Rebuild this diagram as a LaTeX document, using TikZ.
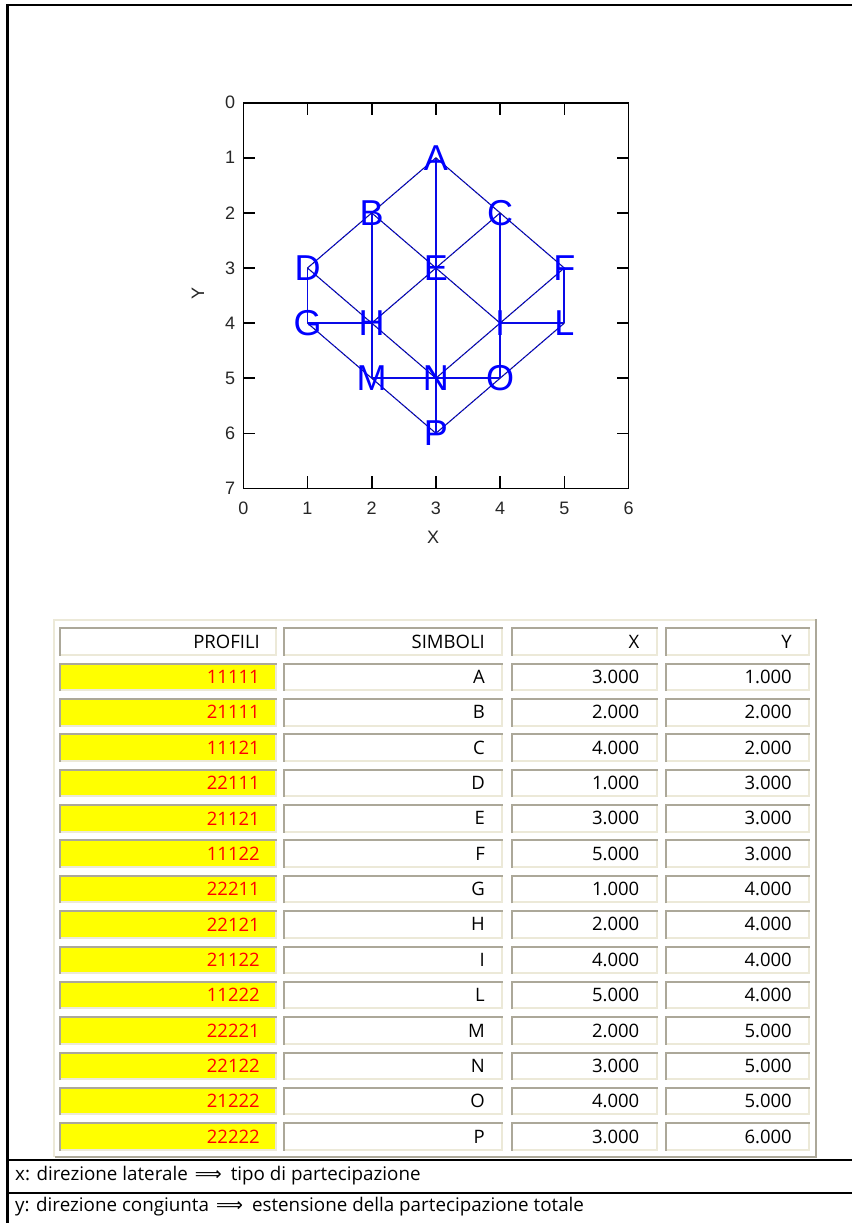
\documentclass[tikz,border=0pt]{standalone}
\usepackage{fontspec}
\setmainfont{Open Sans}
\newfontfamily\arialf{Liberation Sans}
\newfontfamily\symf{DejaVu Sans}
\usetikzlibrary{backgrounds}
\definecolor{cdark}{RGB}{172,168,153}
\definecolor{clight}{RGB}{236,233,216}
\definecolor{plotblue}{RGB}{10,10,230}
\definecolor{cellyellow}{RGB}{255,255,0}
\definecolor{txtred}{RGB}{255,0,0}
\newcommand\tcell[5]{%
  \fill[#5] (#1,#2) rectangle (#3,#4);
  \draw[cdark,line width=2pt] (#1+1,#4) -- (#1+1,#2+1) -- (#3,#2+1);
  \draw[clight,line width=2pt] (#1+2,#4-1) -- (#3-1,#4-1) -- (#3-1,#2+2);
}
\newcommand\darrow{\hspace{7pt}{\symf ⟹}\hspace{9pt}}
\begin{document}
\begin{tikzpicture}[x=1pt,y=-1pt,
  frameline/.style={line width=2.2pt,black},
  tbltext/.style={anchor=east,inner sep=0pt,font=\fontsize{18.5}{21}\selectfont},
  notetext/.style={anchor=base west,inner sep=0pt,font=\fontsize{18.8}{22}\selectfont},
  ptlabel/.style={text=blue,inner sep=0pt,font=\arialf\fontsize{36}{40}\selectfont},
  ticklab/.style={inner sep=0pt,font=\arialf\fontsize{18}{20}\selectfont,text=black!85},
  axisline/.style={line width=1.6pt,black},
  vline/.style={plotblue,line width=1.8pt},
  diag/.style={plotblue,line width=1.1pt,postaction={draw=black!85,line width=0.55pt,dash pattern=on 2pt off 2pt}}]
\useasboundingbox (0,0) rectangle (852,1223);
% outer frame
\draw[frameline] (7.5,1223) -- (7.5,5) -- (852,5);
\draw[frameline] (7.5,1160) -- (852,1160);
\draw[frameline] (7.5,1193) -- (852,1193);
% ---------- plot ----------
\begin{scope}[shift={(243.3pt,-102.7pt)},x=64.2pt,y=-55.1pt]
  \draw[axisline] (0,0) rectangle (6,7);
  \foreach \k in {1,...,5} {
    \draw[axisline] (\k,0) -- ++(0pt,-12pt);
    \draw[axisline] (\k,7) -- ++(0pt,12pt);
  }
  \foreach \k in {1,...,6} {
    \draw[axisline] (0,\k) -- ++(12pt,0pt);
    \draw[axisline] (6,\k) -- ++(-12pt,0pt);
  }
  \foreach \k in {0,...,6}
    \node[ticklab] (xt\k) at ([yshift=-20pt]\k,7) {\k};
  \foreach \k in {0,...,7}
    \node[ticklab,anchor=east] (yt\k) at ([xshift=-8pt]0,\k) {\k};
  \foreach \n/\a/\b in {A/3/1,B/2/2,C/4/2,D/1/3,E/3/3,F/5/3,G/1/4,H/2/4,I/4/4,L/5/4,M/2/5,N/3/5,O/4/5,P/3/6}
    \node[ptlabel] (\n) at (\a,\b) {\n};
  \begin{pgfonlayer}{background}
    \draw[vline] (A.center) -- (P.center);
    \draw[vline] (B.center) -- (M.center);
    \draw[vline] (C.center) -- (O.center);
    \draw[vline] (D.center) -- (G.center);
    \draw[vline] (F.center) -- (L.center);
    \draw[vline] (G.center) -- (H.center);
    \draw[vline] (I.center) -- (L.center);
    \draw[vline] (M.center) -- (O.center);
    \foreach \u/\v in {A/B,A/C,B/D,B/E,C/E,C/F,D/H,E/H,E/I,F/I,G/M,H/N,I/N,L/O,M/P,O/P}
      \draw[diag] (\u.center) -- (\v.center);
  \end{pgfonlayer}
\end{scope}
\node[ticklab] (xlab) at (433,537) {X};
\node[ticklab,rotate=90] (ylab) at (198,293) {Y};
% ---------- table ----------
\draw[clight,line width=2pt] (54,1157) -- (54,620) -- (815,620);
\draw[cdark,line width=2pt] (55,1157) -- (815.5,1157) -- (815.5,619);
\tcell{59.3}{627.3}{277.3}{655.8}{white}
\tcell{283.3}{627.3}{502.7}{655.8}{white}
\tcell{510.7}{627.3}{658}{655.8}{white}
\tcell{664.7}{627.3}{810}{655.8}{white}
\node[tbltext] (h1) at (260,641.5) {PROFILI};
\node[tbltext] (h2) at (485,641.5) {SIMBOLI};
\node[tbltext] (h3) at (639.5,641.5) {X};
\node[tbltext] (h4) at (792,641.5) {Y};
\foreach [count=\i] \pr/\sy/\xv/\yv in {11111/A/3.000/1.000,21111/B/2.000/2.000,11121/C/4.000/2.000,22111/D/1.000/3.000,21121/E/3.000/3.000,11122/F/5.000/3.000,22211/G/1.000/4.000,22121/H/2.000/4.000,21122/I/4.000/4.000,11222/L/5.000/4.000,22221/M/2.000/5.000,22122/N/3.000/5.000,21222/O/4.000/5.000,22222/P/3.000/6.000} {
  \pgfmathsetmacro\rt{627.3+35.36*\i}
  \pgfmathsetmacro\rb{\rt+28.5}
  \pgfmathsetmacro\rm{\rt+14.2}
  \tcell{59.3}{\rt}{277.3}{\rb}{cellyellow}
  \tcell{283.3}{\rt}{502.7}{\rb}{white}
  \tcell{510.7}{\rt}{658}{\rb}{white}
  \tcell{664.7}{\rt}{810}{\rb}{white}
  \node[tbltext,text=txtred] (p\i) at (260,\rm) {\pr};
  \node[tbltext] (s\i) at (485,\rm) {\sy};
  \node[tbltext] (x\i) at (639.5,\rm) {\xv};
  \node[tbltext] (y\i) at (792,\rm) {\yv};
}
% ---------- notes ----------
\node[notetext] (n1) at (15,1180.5) {x: direzione laterale\darrow tipo di partecipazione};
\node[notetext] (n2) at (15,1211.5) {y: direzione congiunta\darrow estensione della partecipazione totale};
\end{tikzpicture}
\end{document}
